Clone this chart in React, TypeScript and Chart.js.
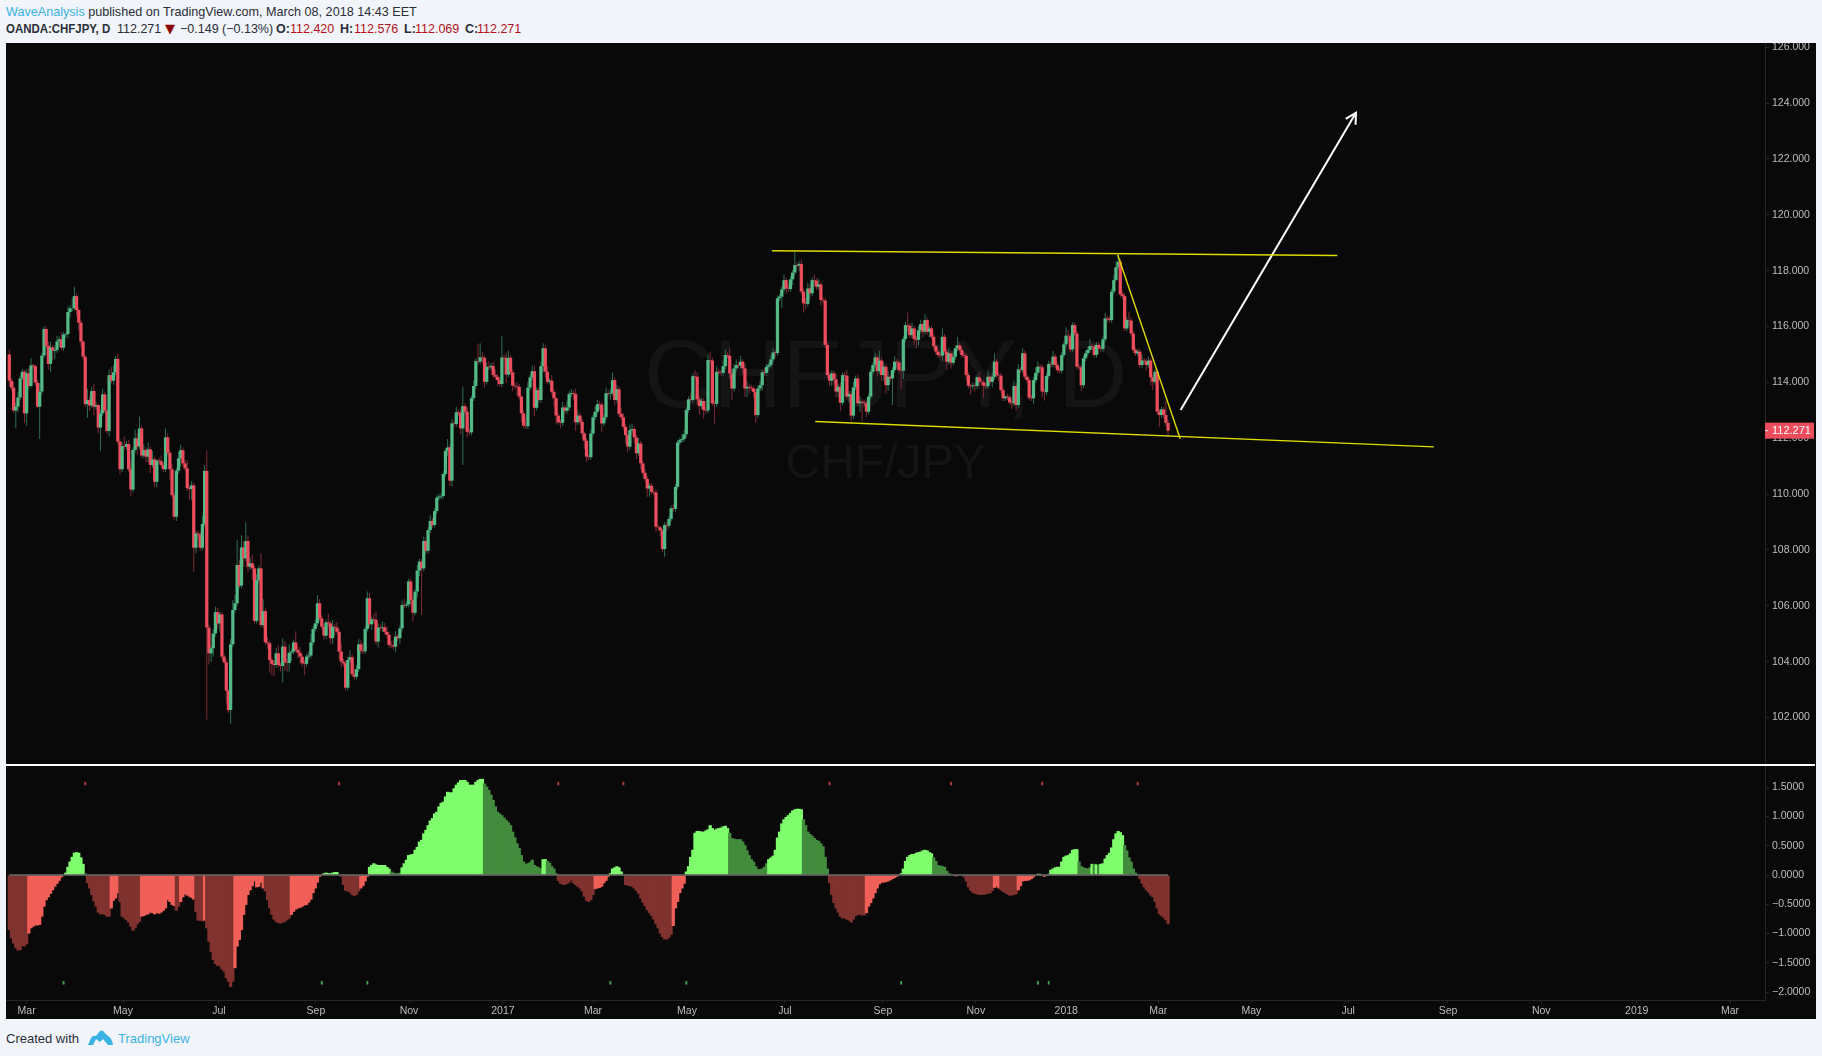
import React, { useEffect, useRef } from "react";
import { Chart, registerables } from "chart.js";

Chart.register(...registerables);

// ---------- price series (CHFJPY daily) ----------
const firstOpen = 115.0;
const closes = [
  114.06,113.81,112.99,113.13,113.46,114.14,114.38,112.89,114.32,113.87,114.61,114.58,113.99,113.13,113.67,114.96,115.91,115.31,114.66,115.25,
  115.13,115.16,115.47,115.54,115.24,115.71,115.73,116.52,116.65,116.66,117.09,116.59,116.14,115.46,114.92,113.22,113.37,113.17,113.69,113.13,
  113.19,112.38,112.89,113.57,112.99,112.26,114.26,114.06,114.36,114.84,111.88,110.89,111.72,111.70,111.79,110.89,110.16,111.58,112.00,111.70,
  112.35,111.38,111.58,111.34,111.60,111.04,111.24,110.44,111.20,111.18,111.04,110.89,112.03,111.48,110.89,109.96,109.19,110.84,111.28,111.57,
  111.10,110.92,110.21,110.18,110.31,108.08,108.59,108.55,108.08,108.93,110.83,105.22,104.30,104.48,105.01,105.77,105.37,105.69,104.18,103.98,
  102.96,102.27,104.62,105.85,106.09,107.46,106.72,108.09,107.70,108.32,107.40,107.52,107.34,105.46,106.92,107.34,105.31,105.81,104.69,104.66,
  104.06,103.92,103.88,104.30,103.88,103.85,104.54,103.97,103.95,104.32,104.36,104.69,104.42,104.32,104.18,103.94,103.92,104.18,104.22,104.69,
  105.17,105.37,106.09,105.55,105.25,104.93,105.41,105.37,104.84,105.25,105.22,105.07,104.36,104.00,103.94,103.07,104.06,104.16,103.55,103.46,
  103.73,104.62,104.39,104.37,105.17,106.27,105.34,105.52,105.50,104.72,105.22,105.20,105.23,105.07,104.96,104.60,104.58,104.54,104.90,104.84,
  105.19,106.03,106.01,106.05,106.87,106.21,105.75,106.51,107.26,107.58,107.34,108.32,107.97,108.71,109.04,108.89,109.39,109.87,109.91,109.93,
  110.72,111.55,111.67,110.48,112.53,112.51,112.93,112.90,112.35,113.15,112.95,112.23,112.21,113.43,113.87,114.76,114.74,114.90,114.88,114.02,
  114.56,114.54,114.59,114.26,114.20,114.08,113.94,114.89,114.87,114.28,114.88,114.36,113.88,113.86,113.84,113.49,112.89,112.45,112.43,113.81,
  114.18,114.40,113.09,113.72,113.37,114.58,115.22,114.38,114.02,114.06,113.66,113.43,112.81,112.57,112.55,113.10,112.98,113.10,113.58,113.61,
  113.58,112.57,112.81,112.59,112.17,111.91,111.34,111.32,112.17,112.75,112.95,113.22,113.20,112.53,112.75,113.61,113.59,113.62,114.08,113.37,
  113.75,112.87,112.75,112.41,112.11,111.70,112.29,112.33,112.03,111.46,111.81,111.10,110.76,110.54,110.20,110.30,110.08,110.06,108.83,108.81,
  108.69,108.03,108.89,108.87,109.11,109.49,109.47,110.26,111.85,111.93,111.97,112.14,113.01,113.39,113.37,114.22,114.20,113.39,113.15,113.33,
  113.01,112.99,114.80,114.78,113.25,113.23,114.38,114.35,114.34,114.58,114.98,114.95,114.32,113.78,114.50,114.62,114.60,114.74,114.50,113.78,
  113.84,113.81,113.78,113.66,112.83,113.78,113.90,114.36,114.34,114.56,114.62,114.82,115.07,115.05,117.01,117.07,117.33,117.66,117.36,117.34,
  117.69,117.93,118.20,118.18,118.24,117.25,116.83,116.81,117.36,117.19,117.66,117.64,117.42,117.51,116.95,116.93,115.34,114.26,114.06,114.32,
  114.11,113.67,113.84,113.27,114.26,114.24,113.49,113.58,112.81,113.82,114.14,113.25,113.31,113.28,113.25,112.95,113.49,114.38,114.62,114.89,
  114.40,114.78,114.26,114.56,113.90,114.20,114.14,114.44,114.74,114.71,114.44,114.42,115.55,116.05,116.02,115.69,115.93,115.55,115.52,115.87,
  116.09,115.81,116.23,115.81,115.93,115.63,115.30,115.10,114.98,114.96,115.63,115.10,114.74,115.04,114.70,114.92,115.22,115.32,115.16,114.98,
  114.95,114.26,113.88,113.86,113.89,113.87,114.18,114.02,114.00,113.88,113.86,114.20,114.02,114.20,114.74,114.26,114.24,113.72,113.43,113.49,
  113.47,113.28,113.25,113.87,113.19,114.46,114.44,115.04,114.20,114.08,113.45,113.43,114.08,114.34,114.56,114.54,113.67,113.65,114.23,114.66,
  114.64,114.92,114.62,114.44,114.42,114.98,115.36,115.67,115.65,115.18,116.05,115.75,114.56,114.54,113.90,114.86,115.04,115.16,115.30,115.28,
  114.98,115.34,115.22,115.20,115.54,116.29,116.27,116.23,117.25,117.66,118.12,118.32,117.15,117.09,115.93,116.23,116.21,115.75,115.16,115.04,
  115.10,114.62,114.78,114.76,114.62,114.78,114.18,114.02,114.38,112.95,112.83,113.03,112.83,112.55,112.27,
];
const upperWicks = [
  .18,.1,.2,.15,.2,.1,.1,.05,.15,.2,.25,.05,.05,.1,.3,.1,.1,.1,.15,.2,
  .1,.15,.2,.1,.25,.1,.05,.2,.1,.35,.33,.1,.05,.1,.05,.05,.4,.15,.15,.25,
  .1,.05,.15,.2,.1,.05,.2,.3,.25,.1,.2,.1,.15,.35,.1,.15,.3,.1,.3,.2,
  .42,.1,.2,.1,.25,.1,.3,.1,.05,.1,.2,.1,.32,.15,.1,.2,.1,.1,.25,.2,
  .1,.1,.3,.1,.15,.1,.1,.1,.1,.3,.2,.72,.1,.1,.15,.2,.15,.1,.1,.1,
  .1,.05,.2,.35,.3,.9,.2,.44,.2,.67,.2,.2,.3,.1,.2,.1,.54,.42,.1,.2,
  .1,.1,.1,.2,.3,.1,.3,.2,.15,.3,.1,.1,.4,.15,.2,.1,.1,.1,.15,.3,
  .1,.15,.3,.15,.1,.1,.1,.3,.1,.25,.1,.2,.1,.3,.1,.1,.1,.25,.1,.2,
  .15,.2,.15,.3,.1,.24,.2,.1,.2,.3,.15,.1,.2,.15,.2,.1,.15,.2,.2,.1,
  .1,.15,.2,.1,.1,.1,.15,.1,.2,.1,.1,.15,.1,.1,.2,.1,.1,.1,.1,.1,
  .1,.1,.3,.1,.15,.1,.2,.1,.1,.69,.1,.15,.1,.1,.2,.1,.62,.5,.2,.1,
  .15,.2,.1,.15,.2,.1,.1,.76,.1,.2,.25,.1,.1,.1,.15,.1,.05,.1,.3,.2,
  .1,.2,.2,.1,.1,.15,.18,.1,.2,.1,.2,.1,.05,.1,.1,.2,.1,.25,.1,.15,
  .1,.2,.2,.1,.1,.05,.1,.1,.15,.1,.2,.15,.1,.1,.1,.2,.1,.15,.27,.1,
  .15,.1,.2,.15,.1,.05,.2,.2,.1,.1,.2,.1,.1,.15,.1,.1,.1,.05,.1,.05,
  .05,.05,.1,.1,.1,.1,.15,.1,.1,.1,.2,.15,.1,.1,.2,.1,.2,.15,.1,.1,
  .1,.1,.2,.3,.1,.1,.2,.1,.1,.2,.2,.1,.3,.1,.15,.2,.1,.2,.1,.15,
  .2,.1,.1,.1,.1,.1,.15,.1,.15,.1,.1,.15,.15,.1,.1,.1,.1,.2,.1,.15,
  .1,.1,.48,.1,.1,.15,.1,.2,.2,.15,.1,.2,.1,.2,.1,.1,.1,.1,.1,.1,
  .1,.2,.1,.15,.1,.1,.2,.1,.1,.2,.1,.15,.2,.1,.1,.1,.1,.1,.1,.15,
  .1,.35,.1,.15,.1,.2,.1,.1,.2,.1,.1,.1,.1,.1,.45,.1,.2,.1,.1,.15,
  .15,.1,.21,.1,.1,.1,.1,.05,.1,.1,.3,.1,.1,.2,.1,.2,.1,.3,.1,.1,
  .1,.1,.1,.05,.1,.1,.1,.2,.1,.1,.1,.2,.1,.15,.3,.1,.1,.1,.1,.05,
  .1,.1,.1,.2,.1,.2,.1,.18,.1,.1,.1,.1,.1,.2,.2,.1,.1,.1,.1,.1,
  .1,.2,.1,.1,.1,.1,.1,.3,.2,.1,.1,.1,.1,.1,.1,.1,.1,.1,.25,.1,
  .1,.1,.1,.1,.1,.2,.1,.1,.1,.2,.2,.25,.1,.1,.1,.1,.3,.1,.1,.1,
  .1,.1,.2,.1,.1,.15,.1,.1,.1,.1,.1,.1,.1,.51,.1,
];
const lowerWicks = [
  .2,.1,.1,.63,.2,.1,.05,.35,.44,.1,.05,.1,.1,.05,1.16,.1,.1,.1,.2,.3,
  .35,.3,.1,.2,.1,.1,.1,.15,.2,.1,.1,.2,.3,.2,.1,.1,.5,.2,.1,.3,
  .1,.2,.82,.1,.05,.1,.2,.1,.15,.1,.1,.2,.1,.1,.1,.1,.25,.1,.1,.3,
  .1,.1,.1,.2,.2,.3,.1,.2,.2,.1,.1,.1,.1,.1,.4,.1,.1,.15,.1,.3,
  .1,.1,.1,.4,.4,.86,.2,.2,.1,.1,.1,3.3,.4,.3,.3,.1,.2,.3,.1,.1,
  .45,.1,.5,.1,.1,.1,.1,.1,.3,.1,.2,.1,.4,.1,.1,.1,.1,.1,.1,.2,
  .45,.4,.4,.1,.1,.2,.6,.3,.3,.3,.3,.1,.1,.2,.25,.1,.4,.1,.1,.1,
  .1,.1,.1,.1,.1,.15,.1,.15,.2,.2,.3,.1,.3,.2,.1,.1,.1,.1,.1,.1,
  .1,.1,.1,.1,.1,.1,.1,.2,.1,.1,.2,.1,.15,.1,.1,.1,.1,.1,.2,.1,
  .2,.1,.1,.1,.1,.2,.3,.1,.2,.2,1.67,.1,.1,.1,.1,.1,.1,.1,.1,.1,
  .1,.1,.2,.2,.2,.1,.1,.1,.2,1.31,.1,.2,.1,.1,.1,.1,.1,.1,.2,.2,
  .1,.1,.1,.1,.1,.2,.1,.1,.1,.3,.1,.1,.2,.1,.3,.1,.3,.1,.1,.1,
  .1,.1,.3,.1,.1,.1,.2,.2,.1,.1,.1,.3,.3,.1,.2,.1,.1,.1,.1,.1,
  .2,.3,.1,.1,.2,.3,.18,.1,.1,.1,.1,.1,.2,.3,.1,.1,.1,.2,.1,.2,
  .1,.1,.1,.1,.3,.2,.1,.1,.2,.2,.1,.2,.1,.1,.3,.3,.1,.1,.2,.1,
  .2,.1,.27,.2,.1,.1,.1,.1,.1,.1,.1,.1,.1,.1,.1,.1,.1,.2,.3,.1,
  .3,.1,.1,.1,.1,.7,.1,.1,.1,.1,.1,.1,.2,.4,.1,.1,.1,.1,.2,.3,
  .3,.2,.1,.2,.28,.1,.1,.2,.1,.1,.1,.1,.1,.15,.1,.1,.4,.1,.2,.1,
  .1,.2,.1,.1,.2,.1,.33,.2,.1,.2,.1,.2,.1,.1,.2,.1,.1,.1,.2,.2,
  .2,.2,.2,.3,.1,.2,.1,.2,.2,.1,.1,.1,.3,.66,.1,.2,.1,.1,.1,.1,
  .2,.1,.2,.2,.3,.2,.1,.95,.1,.2,.1,.66,.3,.1,.2,.1,.1,.2,.3,.2,
  .1,.2,.1,.1,.2,.1,.1,.1,.1,.1,.2,.1,.3,.1,.2,.1,.1,.1,.1,.1,
  .1,.2,.1,.3,.1,.2,.1,.2,.1,.45,.1,.1,.1,.2,.1,.1,.2,.1,.1,.1,
  .1,.1,.2,.1,.2,.1,.1,.1,.1,.1,.1,.1,.2,.1,.1,.1,.2,.3,.1,.1,
  .1,.1,.1,.1,.1,.1,.1,.1,.2,.1,.1,.1,.1,.1,.2,.1,.1,.1,.1,.1,
  .1,.1,.2,.1,.1,.1,.1,.1,.1,.1,.05,.1,.1,.1,.1,.1,.2,.1,.1,.1,
  .1,.1,.1,.1,.2,.1,.3,.3,.1,.1,.42,.1,.1,.1,.18,
];

// ---------- momentum oscillator ----------
const momentum = [
  -.94,-1.08,-1.17,-1.25,-1.29,-1.28,-1.21,-1.22,-1.18,-1,-.91,-.88,-.86,-.86,-.85,-.71,-.54,-.43,-.38,-.32,
  -.26,-.2,-.15,-.1,-.04,-.01,.04,.14,.23,.31,.38,.39,.38,.3,.19,.03,-.14,-.23,-.34,-.45,
  -.54,-.64,-.67,-.67,-.68,-.71,-.71,-.57,-.44,-.4,-.31,-.46,-.71,-.74,-.77,-.81,-.88,-.95,-.91,-.84,
  -.8,-.71,-.7,-.68,-.67,-.64,-.65,-.67,-.65,-.66,-.64,-.61,-.57,-.43,-.46,-.51,-.53,-.61,-.54,-.46,
  -.38,-.33,-.35,-.37,-.39,-.42,-.63,-.78,-.78,-.79,-.78,-.91,-1.14,-1.31,-1.45,-1.52,-1.55,-1.56,-1.61,-1.65,
  -1.76,-1.82,-1.91,-1.82,-1.59,-1.22,-1.11,-.94,-.68,-.51,-.34,-.26,-.19,-.11,-.21,-.2,-.13,-.23,-.28,-.43,
  -.57,-.68,-.76,-.8,-.82,-.83,-.81,-.8,-.77,-.74,-.68,-.63,-.59,-.57,-.56,-.54,-.52,-.51,-.47,-.42,
  -.31,-.23,-.13,-.03,.01,.03,.04,.03,.03,.04,.05,.05,-.01,-.03,-.17,-.27,-.28,-.3,-.34,-.36,
  -.34,-.28,-.23,-.19,-.11,-.03,.14,.17,.2,.18,.17,.17,.17,.17,.14,.11,.06,.04,.03,.03,
  .04,.13,.2,.26,.34,.35,.36,.43,.48,.57,.6,.71,.77,.85,.93,.97,1.05,1.08,1.17,1.23,
  1.25,1.34,1.42,1.41,1.41,1.48,1.54,1.58,1.62,1.62,1.62,1.59,1.54,1.54,1.54,1.59,1.62,1.64,1.64,1.56,
  1.51,1.45,1.37,1.28,1.17,1.08,1.05,1.02,.98,.94,.9,.85,.74,.64,.54,.46,.34,.23,.19,.2,
  .22,.26,.17,.15,.13,.11,.27,.27,.24,.21,.15,.11,.03,-.1,-.15,-.16,-.17,-.15,-.13,-.09,
  -.14,-.17,-.2,-.23,-.28,-.37,-.44,-.46,-.43,-.34,-.24,-.23,-.22,-.2,-.14,-.1,-.03,.03,.11,.13,
  .15,.13,.06,.01,-.17,-.18,-.19,-.2,-.23,-.27,-.32,-.4,-.47,-.53,-.6,-.65,-.7,-.76,-.84,-.91,
  -1,-1.06,-1.1,-1.1,-1.07,-1.02,-.87,-.57,-.46,-.31,-.23,-.15,.06,.15,.31,.43,.72,.75,.75,.74,
  .74,.76,.78,.85,.8,.77,.79,.8,.81,.83,.84,.8,.72,.63,.62,.61,.61,.61,.57,.51,
  .42,.34,.27,.23,.15,.1,.1,.11,.14,.2,.27,.3,.33,.43,.64,.74,.88,.95,.99,1.02,
  1.06,1.1,1.12,1.13,1.13,1.12,.95,.85,.74,.7,.67,.63,.6,.58,.54,.49,.31,.11,-.14,-.34,
  -.48,-.57,-.64,-.71,-.74,-.74,-.76,-.78,-.81,-.76,-.7,-.68,-.68,-.69,-.69,-.65,-.54,-.48,-.4,-.31,
  -.23,-.16,-.13,-.13,-.12,-.11,-.09,-.07,-.05,-.03,-.01,.03,.11,.24,.31,.34,.36,.36,.38,.39,
  .4,.42,.43,.42,.39,.37,.3,.24,.17,.16,.15,.14,.07,.03,.01,-.01,-.03,-.02,-.01,-.01,
  -.04,-.11,-.21,-.27,-.3,-.32,-.33,-.34,-.34,-.34,-.33,-.32,-.31,-.27,-.22,-.2,-.23,-.26,-.29,-.31,
  -.33,-.35,-.35,-.34,-.33,-.26,-.19,-.11,-.1,-.1,-.09,-.07,-.04,-.01,.02,.02,-.01,-.03,-.01,.02,
  .09,.11,.13,.14,.14,.23,.31,.33,.34,.37,.43,.44,.44,.23,.15,.13,.12,.11,.13,.19,
  .19,.18,.18,.19,.2,.28,.34,.38,.47,.61,.71,.75,.73,.68,.51,.42,.3,.23,.11,.04,
  -.02,-.07,-.15,-.21,-.26,-.3,-.35,-.38,-.46,-.57,-.67,-.7,-.73,-.77,-.84,
];
// state of the histogram: last bar of each run, and which shade it uses
const momentumRunEnds = [8,25,34,35,46,50,60,76,78,85,89,90,103,117,129,143,151,161,165,175,180,218,245,247,252,269,276,283,305,311,331,349,365,377,394,410,425,434,453,456,464,473,475,478,492,498,499,500,501,502,513,519,534];
const momentumRunStates = ["dr","lr","up","dg","dr","lr","dr","lr","dr","lr","dr","lr","dr","lr","dr","lr","up","dr","lr","up","dg","up","dg","up","dg","dr","lr","up","dr","lr","up","dg","up","dg","dr","lr","up","dg","dr","lr","dr","lr","up","lr","up","dg","up","dg","up","dg","up","dg","dr"];
const sellSignalBars = [35,152,253,283,378,434,476,520];
const buySignalBars = [25,144,165,277,312,411,474,479];
const sellSignalRange = [1.53,1.59];
const buySignalRange = [-1.87,-1.81];

// ---------- axes ----------
const priceTicks = [126,124,122,120,118,116,114,112,110,108,106,104,102];
const momentumTicks = [1.5,1,0.5,0,-0.5,-1,-1.5,-2];
const timeTickBars = [8,52.4,96.6,141.3,184.2,227.5,269,312.3,357.4,402.6,445.4,487.1,529.5,572.4,617,663,706,750,793];
const timeTickLabels = ["Mar","May","Jul","Sep","Nov","2017","Mar","May","Jul","Sep","Nov","2018","Mar","May","Jul","Sep","Nov","2019","Mar"];
const barAxisRange = [-1.52,809.1];
const priceRange = [100.3,126.15];
const momentumRange = [-2.133,1.86];
const lastPrice = 112.271;
const lastPriceLabel = "112.271";

// ---------- drawings, in bar / price units ----------
const channelTop = [{x:351.5,y:118.71},{x:612,y:118.54}];
const channelBottom = [{x:371.4,y:112.60},{x:656.5,y:111.69}];
const wedgeLine = [{x:510.8,y:118.57},{x:539.6,y:111.98}];
const forecastArrow = [{x:539.8,y:113.01},{x:620.6,y:123.65}];
const watermarkTitle = "CHFJPY, D";
const watermarkSubtitle = "CHF/JPY";

// ---------- header texts ----------
const symbolLabel = "OANDA:CHFJPY, D";
const lastLabel = "112.271";
const changeLabel = "−0.149 (−0.13%)";
const ohlcLabels = ["O:","H:","L:","C:"];
const ohlcValues = ["112.420","112.576","112.069","112.271"];

// ---------- styles ----------
const GREEN = "#53b987";
const RED = "#eb4d5c";
const WICK_GREEN = "#2f6f55";
const WICK_RED = "#7d2c38";
const SHADES: Record<string,string> = { up:"#80ff6e", dg:"#438c3e", lr:"#f06058", dr:"#80322e" };
const AXIS_TEXT = "#bdbdbd";
const AXIS_LINE = "#262626";
const AXIS_FONT = { family:"'Liberation Sans', Arial, sans-serif", size:10.5 };
const PAGE = "#f1f4f8";
const PANEL = "#090909";
const BLUE = "#3bb3e4";
const DARK_RED = "#b3121d";
const INK = "#2a2e39";
const HEADER_FONT = "12.5px 'Liberation Sans', Arial, sans-serif";
const OHLC_LABEL_X = [276,340,404,465];
const OHLC_VALUE_X = [290,354,415,477];

const opens = closes.map((_, i) => (i === 0 ? firstOpen : closes[i - 1]));
const isUp = closes.map((c, i) => c >= opens[i]);
const momentumShades = momentum.map((_, i) => SHADES[momentumRunStates[momentumRunEnds.findIndex((e) => i <= e)]]);

const fixAxis = (size: number, dim: "width" | "height") => (scale: any) => {
  scale[dim] = size;
  scale.paddingTop = 0;
  scale.paddingBottom = 0;
  scale.paddingLeft = 0;
  scale.paddingRight = 0;
};

const watermarkPlugin = {
  id: "watermark",
  beforeDatasetsDraw(chart: any) {
    const { ctx, chartArea } = chart;
    const cx = (chartArea.left + chartArea.right) / 2;
    ctx.save();
    ctx.fillStyle = "#141414";
    ctx.textAlign = "center";
    ctx.textBaseline = "alphabetic";
    ctx.font = "96px 'Liberation Sans', Arial, sans-serif";
    ctx.fillText(watermarkTitle, cx, 364);
    ctx.font = "48px 'Liberation Sans', Arial, sans-serif";
    ctx.fillText(watermarkSubtitle, cx, 435);
    ctx.restore();
  },
};

const overlayPlugin = {
  id: "overlay",
  afterDraw(chart: any) {
    const { ctx, chartArea, scales } = chart;
    // arrow head
    const [a, b] = forecastArrow;
    const x0 = scales.x.getPixelForValue(a.x), y0 = scales.y.getPixelForValue(a.y);
    const x1 = scales.x.getPixelForValue(b.x), y1 = scales.y.getPixelForValue(b.y);
    const ang = Math.atan2(y1 - y0, x1 - x0);
    ctx.save();
    ctx.strokeStyle = "#ffffff";
    ctx.lineWidth = 2;
    ctx.beginPath();
    ctx.moveTo(x1 - 12 * Math.cos(ang - 0.5), y1 - 12 * Math.sin(ang - 0.5));
    ctx.lineTo(x1, y1);
    ctx.lineTo(x1 - 12 * Math.cos(ang + 0.5), y1 - 12 * Math.sin(ang + 0.5));
    ctx.stroke();
    // last price tag
    const y = scales.y.getPixelForValue(lastPrice);
    ctx.fillStyle = RED;
    ctx.fillRect(chartArea.right, y - 8, 49, 16);
    ctx.fillStyle = "#ffffff";
    ctx.fillRect(chartArea.right, y - 0.5, 3, 1);
    ctx.textAlign = "left";
    ctx.textBaseline = "middle";
    ctx.font = "11px 'Liberation Sans', Arial, sans-serif";
    ctx.fillText(lastPriceLabel, chartArea.right + 7, y);
    ctx.restore();
  },
};

const Footer = () => (
  <div style={{ position:"absolute", left:6, top:1030, height:18, font:"13px 'Liberation Sans', Arial, sans-serif", color:INK, lineHeight:"18px", whiteSpace:"nowrap" }}>
    <span>Created with</span>
    <svg width={25} height={15} viewBox="0 0 25 15" style={{ position:"absolute", left:82, top:0 }}>
      <path fill={BLUE} d="M0 15 L3 8 Q5 5 8 6 L12 1 Q13 0 15 1 L20 6 Q24 8 25 15 L20 15 L15 9 L12 12 L8 9 L5 15 Z" />
    </svg>
    <span style={{ position:"absolute", left:112, color:BLUE }}>TradingView</span>
  </div>
);

const abs = (left: number, extra: React.CSSProperties = {}): React.CSSProperties => ({ position:"absolute", left, top:0, ...extra });

const Header = () => (
  <div style={{ position:"absolute", left:0, top:0, width:700, height:40, font:HEADER_FONT, color:INK, whiteSpace:"nowrap" }}>
    <div style={{ position:"absolute", left:6, top:4, lineHeight:"17px", font:"13px 'Liberation Sans', Arial, sans-serif", transform:"scaleX(0.97)", transformOrigin:"left" }}>
      <span style={{ color:BLUE }}>WaveAnalysis</span> published on TradingView.com, March 08, 2018 14:43 EET
    </div>
    <div style={{ position:"absolute", left:0, top:21, lineHeight:"17px", width:700, height:17 }}>
      <b style={abs(6, { font:"bold 13px 'Liberation Sans', Arial, sans-serif", transform:"scaleX(0.88)", transformOrigin:"left" })}>{symbolLabel}</b>
      <span style={abs(117)}>{lastLabel}</span>
      <span style={abs(165, { color:"#8b0000", font:"13px 'DejaVu Sans', sans-serif" })}>▼</span>
      <span style={abs(180)}>{changeLabel}</span>
      {ohlcLabels.map((t, i) => <b key={t} style={abs(OHLC_LABEL_X[i])}>{t}</b>)}
      {ohlcValues.map((t, i) => <span key={i} style={abs(OHLC_VALUE_X[i], { color:DARK_RED })}>{t}</span>)}
    </div>
  </div>
);

export default function App() {
  const priceRef = useRef<HTMLCanvasElement>(null);
  const momentumRef = useRef<HTMLCanvasElement>(null);

  useEffect(() => {
    document.body.style.margin = "0";
    document.body.style.background = PAGE;
    document.body.style.overflow = "hidden";

    const lineSet = (data: any[], color: string, width: number) => ({
      type: "line" as const, data, borderColor: color, borderWidth: width, pointRadius: 0, fill: false, order: 1, tension: 0,
    });

    const priceChart = new Chart(priceRef.current!, {
      type: "bar",
      data: {
        datasets: [
          { label:"wedge", ...lineSet(wedgeLine, "#dcdc00", 1.4) },
          { label:"channel top", ...lineSet(channelTop, "#dcdc00", 1.4) },
          { label:"channel bottom", ...lineSet(channelBottom, "#dcdc00", 1.4) },
          { label:"arrow", ...lineSet(forecastArrow, "#ffffff", 2) },
          {
            label:"body", order:2, grouped:false, categoryPercentage:1, barPercentage:1.5, borderWidth:0,
            data: closes.map((c, i) => ({ x:i, y:[opens[i], c] })),
            backgroundColor: isUp.map((u) => (u ? GREEN : RED)),
          },
          {
            label:"wick", order:3, grouped:false, categoryPercentage:1, barPercentage:0.46, borderWidth:0,
            data: closes.map((c, i) => ({ x:i, y:[Math.min(opens[i], c) - lowerWicks[i], Math.max(opens[i], c) + upperWicks[i]] })),
            backgroundColor: isUp.map((u) => (u ? WICK_GREEN : WICK_RED)),
          },
        ] as any,
      },
      options: {
        animation: false, responsive: false, maintainAspectRatio: false,
        layout: { padding: 0 },
        events: [],
        plugins: { legend: { display:false }, tooltip: { enabled:false } },
        scales: {
          x: { type:"linear", min:barAxisRange[0], max:barAxisRange[1], display:false, offset:false, grid:{ offset:false } },
          y: {
            position:"right", min:priceRange[0], max:priceRange[1],
            afterFit: fixAxis(51, "width"),
            afterBuildTicks: (axis: any) => { axis.ticks = priceTicks.map((value) => ({ value })); },
            border: { color:AXIS_LINE },
            grid: { drawOnChartArea:false, drawTicks:true, tickLength:4, color:AXIS_LINE },
            ticks: { color:AXIS_TEXT, font:AXIS_FONT, padding:3, autoSkip:false, callback:(v: any) => Number(v).toFixed(3) },
          },
        },
      } as any,
      plugins: [watermarkPlugin, overlayPlugin] as any,
    });

    const momentumChart = new Chart(momentumRef.current!, {
      type: "bar",
      data: {
        datasets: [
          { label:"zero", ...lineSet([{ x:0, y:0 }, { x:closes.length - 1, y:0 }], "#6e6e6e", 1.5) },
          {
            label:"sell", order:2, grouped:false, categoryPercentage:1, barPercentage:0.9, borderWidth:0,
            data: sellSignalBars.map((x) => ({ x, y:sellSignalRange })), backgroundColor:"#b2393b",
          },
          {
            label:"buy", order:2, grouped:false, categoryPercentage:1, barPercentage:0.9, borderWidth:0,
            data: buySignalBars.map((x) => ({ x, y:buySignalRange })), backgroundColor:"#43a047",
          },
          {
            label:"momentum", order:3, grouped:false, categoryPercentage:1, barPercentage:1.5, borderWidth:0,
            data: momentum.map((y, x) => ({ x, y })), backgroundColor: momentumShades,
          },
        ] as any,
      },
      options: {
        animation: false, responsive: false, maintainAspectRatio: false,
        layout: { padding: 0 },
        events: [],
        plugins: { legend: { display:false }, tooltip: { enabled:false } },
        scales: {
          x: {
            type:"linear", min:barAxisRange[0], max:barAxisRange[1], offset:false,
            afterFit: fixAxis(19, "height"),
            afterBuildTicks: (axis: any) => { axis.ticks = timeTickBars.map((value) => ({ value })); },
            border: { color:AXIS_LINE },
            grid: { drawOnChartArea:false, offset:false, drawTicks:true, tickLength:3, color:AXIS_LINE },
            ticks: { color:AXIS_TEXT, font:AXIS_FONT, padding:2, autoSkip:false, maxRotation:0, callback:(_: any, i: number) => timeTickLabels[i] },
          },
          y: {
            position:"right", min:momentumRange[0], max:momentumRange[1],
            afterFit: fixAxis(51, "width"),
            afterBuildTicks: (axis: any) => { axis.ticks = momentumTicks.map((value) => ({ value })); },
            border: { color:AXIS_LINE },
            grid: { drawOnChartArea:false, drawTicks:true, tickLength:4, color:AXIS_LINE },
            ticks: { color:AXIS_TEXT, font:AXIS_FONT, padding:3, autoSkip:false, callback:(v: any) => Number(v).toFixed(4).replace("-", "−") },
          },
        },
      } as any,
    });

    return () => {
      priceChart.destroy();
      momentumChart.destroy();
    };
  }, []);

  return (
    <div style={{ position:"relative", width:1822, height:1056, background:PAGE, overflow:"hidden" }}>
      <Header />
      <div style={{ position:"absolute", left:6, top:43, width:1810, height:976, background:PANEL }} />
      <canvas ref={priceRef} width={1810} height={722} style={{ position:"absolute", left:6, top:43 }} />
      <div style={{ position:"absolute", left:6, top:764, width:1809, height:2, background:"#ffffff" }} />
      <canvas ref={momentumRef} width={1810} height={253} style={{ position:"absolute", left:6, top:766 }} />
      <Footer />
    </div>
  );
}
